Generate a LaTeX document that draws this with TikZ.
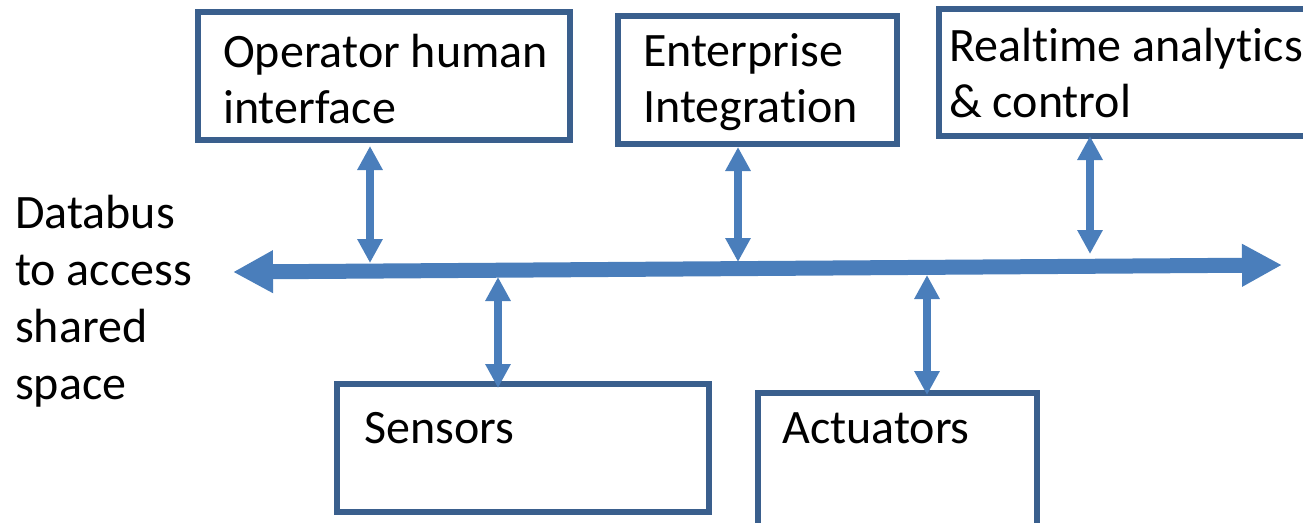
\documentclass[tikz,border=0pt]{standalone}
\usepackage{fontspec}
\setmainfont{Carlito}[Ligatures=CommonOff]
\usetikzlibrary{arrows.meta}
\definecolor{busblue}{HTML}{4A7EBB}
\definecolor{edgeblue}{HTML}{3A5F8D}
\tikzset{
  x=1pt, y=-1pt,
  box/.style={draw=edgeblue, line width=5.5pt, fill=white, rectangle,
              outer sep=0pt, inner sep=0pt, anchor=north west},
  lbl/.style={inner sep=0pt, anchor=base west, align=left,
              font=\fontsize{48}{56}\selectfont},
  bus/.style={draw=busblue, line width=15pt,
              {Triangle[length=40pt,width=40pt]}-{Triangle[length=40pt,width=40pt]}},
  link/.style={draw=busblue, line width=8pt,
               {Triangle[length=24pt,width=24pt]}-{Triangle[length=24pt,width=24pt]}}
}
\begin{document}
\begin{tikzpicture}
\useasboundingbox (0,0) rectangle (1303,522);
\clip (0,0) rectangle (1303,522);

% component boxes
\node[box, minimum width=372pt, minimum height=128pt] (op)  at (198,12)  {};
\node[box, minimum width=279pt, minimum height=128pt] (ent) at (618,16)  {};
\node[box, minimum width=400pt, minimum height=127pt] (rt)  at (939,9)   {};
\node[box, minimum width=372pt, minimum height=128pt] (sen) at (337,384) {};
\node[box, minimum width=279pt, minimum height=160pt] (act) at (758,393) {};

% box captions (placed by the baseline of their last line)
\node[lbl] (optxt)  at (223,123) {Operator human\\interface};
\node[lbl] (enttxt) at (643,122) {Enterprise\\Integration};
\node[lbl] (rttxt)  at (949,117) {Realtime analytics\\\& control};
\node[lbl] (sentxt) at (364,443) {Sensors};
\node[lbl] (acttxt) at (782,443) {Actuators};
\node[lbl, font=\fontsize{48}{57}\selectfont] (bustxt) at (15,399)
  {Databus\\to access\\shared\\space};

% the shared databus
\coordinate (busL) at (233,272);
\coordinate (busR) at (1282,265);
\draw[bus] (busL) -- (busR);

% taps on the bus
\coordinate (tapop)  at (370,263);
\coordinate (tapent) at (738,262);
\coordinate (taprt)  at (1090,254);
\coordinate (tapsen) at (498,277);
\coordinate (tapact) at (927,275);

\draw[link, shorten <=6pt] (op.south -| tapop) -- (tapop);
\draw[link, shorten <=3pt] (ent.south -| tapent) -- (tapent);
\draw[link] (rt.south -| taprt) -- (taprt);
\draw[link, shorten >=-4pt] (tapsen) -- (sen.north -| tapsen);
\draw[link, shorten >=-2pt] (tapact) -- (act.north -| tapact);
\end{tikzpicture}
\end{document}
